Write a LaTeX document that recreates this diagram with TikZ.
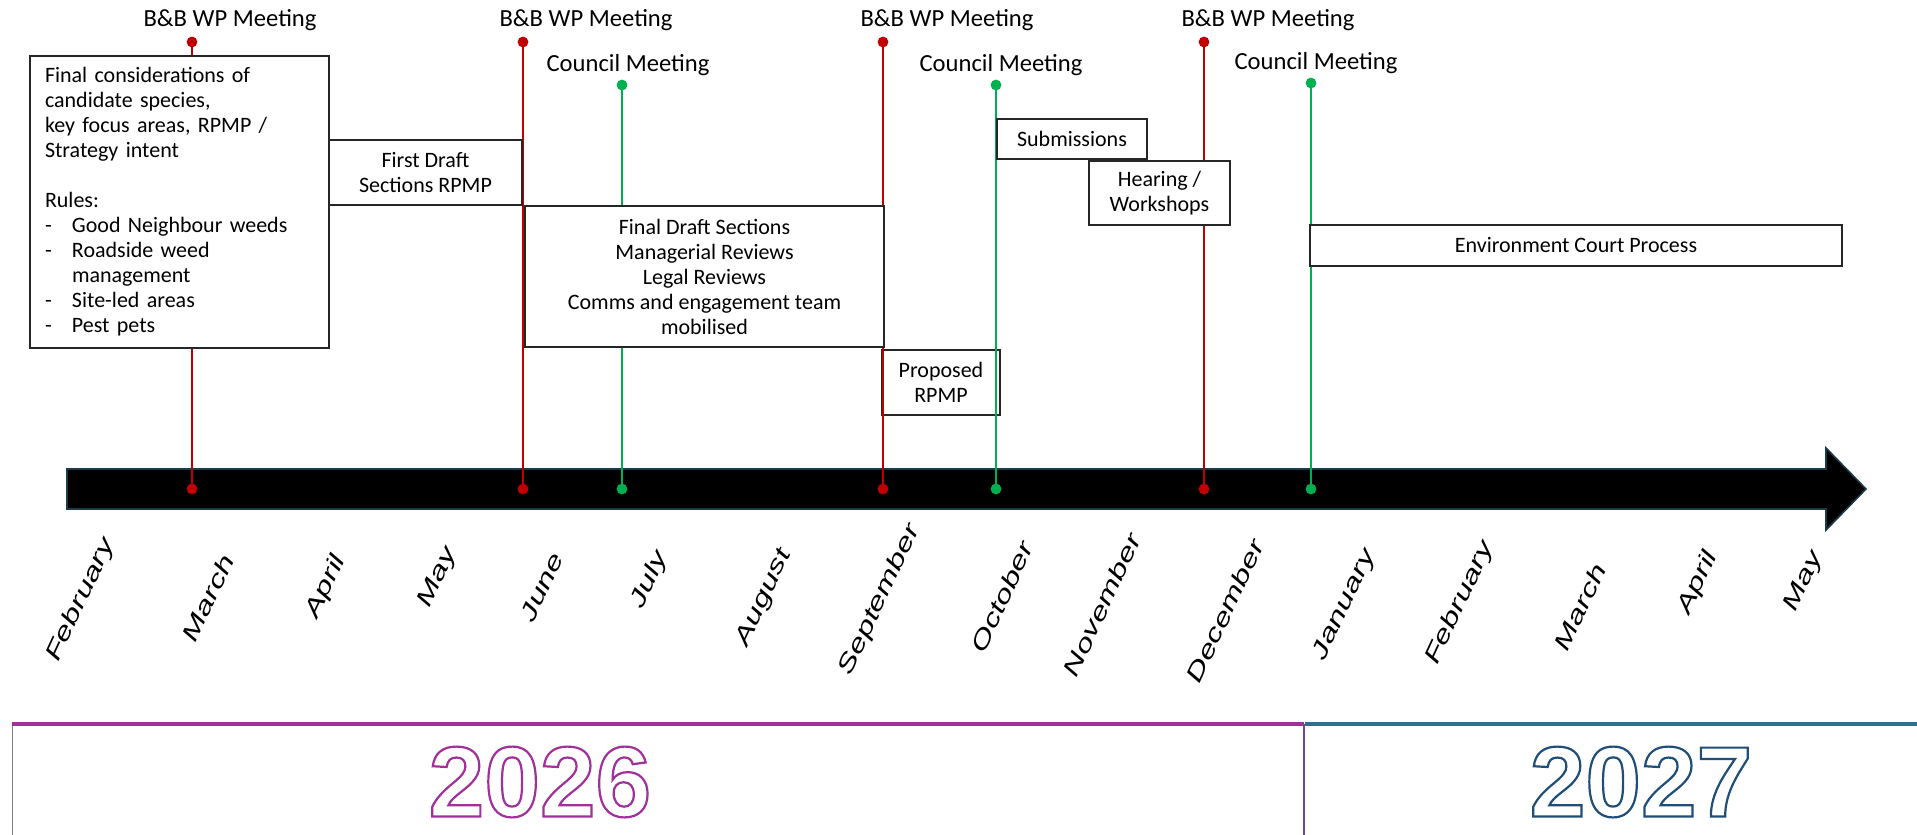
\documentclass[tikz,border=0pt]{standalone}
\usepackage{fontspec}
\setmainfont{Carlito}
\newfontfamily\monthfont{Liberation Sans}
\newfontfamily\yearfont{Liberation Sans}
\usepackage{graphicx}
\usepackage{xcolor}
\usepackage{tikz}
\usetikzlibrary{positioning,calc}

\definecolor{bbred}{HTML}{C00000}
\definecolor{cmgreen}{HTML}{00B050}
\definecolor{yrpurple}{HTML}{A0309A}
\definecolor{yrblue}{HTML}{2F6F8F}
\definecolor{yrnavy}{HTML}{1F4E79}
\definecolor{arrowedge}{HTML}{1B3A4B}

% hollow (stroked) text for the year labels
\newcommand{\hollowtext}[1]{\special{pdf:literal direct 1 Tr 1.1 w}#1\special{pdf:literal direct 0 Tr}}

\tikzset{
  bbline/.style={bbred, line width=1.2pt},
  cmline/.style={cmgreen, line width=1.2pt},
  taskbox/.style={draw=black!85, line width=0.7pt, fill=white, inner sep=0pt,
    align=center, font=\fontsize{11}{12.5}\selectfont},
  meeting/.style={font=\fontsize{12.3}{14}\selectfont, inner sep=0pt},
  month/.style={rotate=65, font=\monthfont\itshape\fontsize{11.5}{13}\selectfont, inner sep=0pt},
  yearlbl/.style={font=\yearfont\bfseries\fontsize{50}{60}\selectfont, inner sep=1pt}
}

\begin{document}
\begin{tikzpicture}[x=0.5pt,y=-0.5pt]
    \fill[white] (0,0) rectangle (1917,835);
    \useasboundingbox (0,0) rectangle (1917,835);

    % Timeline arrow
    \draw[fill=black, draw=arrowedge, line width=0.8pt]
        (67,469) -- (1826,469) -- (1826,448) -- (1866,489) -- (1826,530) -- (1826,509) -- (67,509) -- cycle;

    % Box behind the lines
    \node[taskbox, fill=none, minimum width=59pt, minimum height=32.5pt] (proposed) at (941,382.5) {Proposed\\RPMP};

    % B&B WP meetings
    \foreach \n/\x in {a/192, b/523, c/883, d/1204} {
        \coordinate (bb\n top) at (\x,42);
        \coordinate (bb\n bot) at (\x,489);
        \draw[bbline] (bb\n top) -- (bb\n bot);
        \fill[bbred] (bb\n top) circle[radius=2.7pt] (bb\n bot) circle[radius=2.7pt];
    }
    \node[meeting] (bba lbl) at (230,20) {B\&B WP Meeting};
    \node[meeting] (bbb lbl) at (586,20) {B\&B WP Meeting};
    \node[meeting] (bbc lbl) at (947,20) {B\&B WP Meeting};
    \node[meeting] (bbd lbl) at (1268,20) {B\&B WP Meeting};

    % Council meetings
    \foreach \n/\x/\y in {a/622/85, b/996/85, c/1311/83} {
        \coordinate (cm\n top) at (\x,\y);
        \coordinate (cm\n bot) at (\x,489);
        \draw[cmline] (cm\n top) -- (cm\n bot);
        \fill[cmgreen] (cm\n top) circle[radius=2.7pt] (cm\n bot) circle[radius=2.7pt];
    }
    \node[meeting] (cma lbl) at (628,65) {Council Meeting};
    \node[meeting] (cmb lbl) at (1001,65) {Council Meeting};
    \node[meeting] (cmc lbl) at (1316,63) {Council Meeting};

    % Work stages
    \node[taskbox, align=left, text width=134.5pt, minimum width=149.5pt, minimum height=146pt, inner xsep=7.5pt]
        (scoping) at (179.5,202) {Final considerations of\\
        candidate species,\\
        key focus areas, RPMP /\\
        Strategy intent\\[12.5pt]
        Rules:\\
        \makebox[13.5pt][l]{-}Good Neighbour weeds\\
        \makebox[13.5pt][l]{-}Roadside weed\\
        \hspace*{13.5pt}management\\
        \makebox[13.5pt][l]{-}Site-led areas\\
        \makebox[13.5pt][l]{-}Pest pets};
    \node[taskbox, minimum width=96.5pt, minimum height=32.5pt] (firstdraft) at (425.5,172.5) {First Draft\\Sections RPMP};
    \node[taskbox, minimum width=179.5pt, minimum height=70.5pt] (finaldraft) at (704.5,276.5)
        {Final Draft Sections\\Managerial Reviews\\Legal Reviews\\Comms and engagement team\\mobilised};
    \node[taskbox, minimum width=75pt, minimum height=20pt] (submissions) at (1072,139) {Submissions};
    \node[taskbox, minimum width=70.5pt, minimum height=32pt] (hearing) at (1159.5,193) {Hearing /\\Workshops};
    \node[taskbox, minimum width=266pt, minimum height=20.5pt] (envcourt) at (1576,245.5) {Environment Court Process};

    % Months
    \foreach \m/\x/\y [count=\i] in {February/81/600, March/208/598, April/326/587, May/438/578,
        June/542/587, July/650/580, August/764/598, September/880/600, October/1002/597,
        November/1102/605, December/1225/611, January/1345/605, February/1460/603,
        March/1580/607, April/1698/583, May/1804/582}
        \node[month] (mon\i) at (\x,\y) {\scalebox{1.45}[1]{\m}};

    % Years
    \draw[black!50, line width=0.4pt] (12,724) -- (12,835);
    \draw[yrpurple!60!yrblue, line width=0.6pt] (1304,724) -- (1304,835);
    \draw[yrpurple, line width=1.7pt] (12,724) -- (1304,724);
    \draw[yrblue, line width=1.7pt] (1305,724) -- (1917,724);
    \node[yearlbl, text=yrpurple] (yr2026) at (540,782) {\hollowtext{2026}};
    \node[yearlbl, text=yrnavy] (yr2027) at (1641,782) {\hollowtext{2027}};
\end{tikzpicture}
\end{document}
